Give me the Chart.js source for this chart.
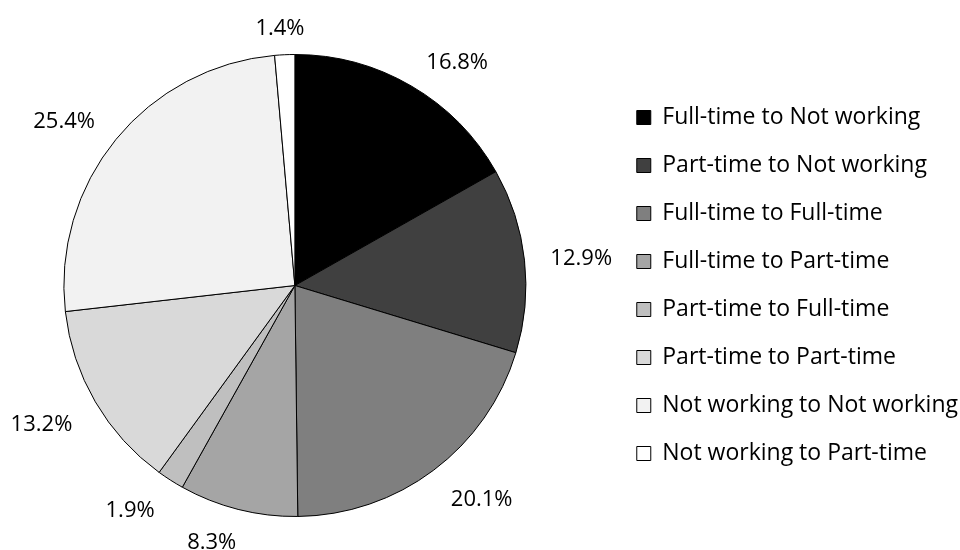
<!DOCTYPE html>
<html>
<head>
<meta charset="utf-8">
<script src="https://cdn.jsdelivr.net/npm/chart.js@4.4.0/dist/chart.umd.min.js"></script>
<style>
    html, body { margin: 0; padding: 0; background: #fff; }
    #wrap { width: 960px; height: 550px; }
</style>
</head>
<body>
<div id="wrap"><canvas id="chart" width="960" height="550"></canvas></div>
<script>
// Data
const categories = [
    'Full-time to Not working',
    'Part-time to Not working',
    'Full-time to Full-time',
    'Full-time to Part-time',
    'Part-time to Full-time',
    'Part-time to Part-time',
    'Not working to Not working',
    'Not working to Part-time'
];
const shares = [16.8, 12.9, 20.1, 8.3, 1.9, 13.2, 25.4, 1.4];
const sliceColors = ['#000000', '#404040', '#7f7f7f', '#a5a5a5', '#bfbfbf', '#d9d9d9', '#f2f2f2', '#ffffff'];

const fontFamily = "'Open Sans', 'DejaVu Sans', sans-serif";

// Leave a wider gap between the pie and the legend
const pieGap = {
    id: 'pieGap',
    afterLayout(chart) {
        chart.chartArea.right -= 22;
        chart.chartArea.width = chart.chartArea.right - chart.chartArea.left;
    }
};

// Percentage labels placed just outside each slice
const outsideLabels = {
    id: 'outsideLabels',
    afterDatasetsDraw(chart) {
        const ctx = chart.ctx;
        const meta = chart.getDatasetMeta(0);
        ctx.save();
        ctx.font = '22px ' + fontFamily;
        ctx.fillStyle = '#000';
        ctx.textAlign = 'center';
        ctx.textBaseline = 'middle';
        const push = v => Math.max(-1, Math.min(1, v * 3));
        meta.data.forEach((arc, i) => {
            const p = arc.getProps(['x', 'y', 'startAngle', 'endAngle', 'outerRadius'], true);
            const mid = (p.startAngle + p.endAngle) / 2;
            const dx = Math.cos(mid);
            const dy = Math.sin(mid);
            const text = shares[i].toFixed(1) + '%';
            const w = ctx.measureText(text).width + 8;
            const h = 16;
            const r = p.outerRadius + 22;
            ctx.fillText(text, p.x + dx * r + push(dx) * w / 2, p.y + dy * r + push(dy) * h / 2 + 4);
        });
        ctx.restore();
    }
};

new Chart(document.getElementById('chart').getContext('2d'), {
    type: 'pie',
    data: {
        labels: categories,
        datasets: [{
            data: shares,
            backgroundColor: sliceColors,
            borderColor: '#000',
            borderWidth: 1
        }]
    },
    options: {
        responsive: false,
        animation: false,
        layout: {
            padding: { left: 0, top: 54, bottom: 33, right: -8 }
        },
        plugins: {
            legend: {
                display: true,
                position: 'right',
                align: 'center',
                labels: {
                    color: '#000',
                    boxWidth: 14,
                    boxHeight: 14,
                    padding: 25,
                    font: { family: fontFamily, size: 23 }
                }
            },
            tooltip: { enabled: false }
        }
    },
    plugins: [pieGap, outsideLabels]
});
</script>
</body>
</html>
